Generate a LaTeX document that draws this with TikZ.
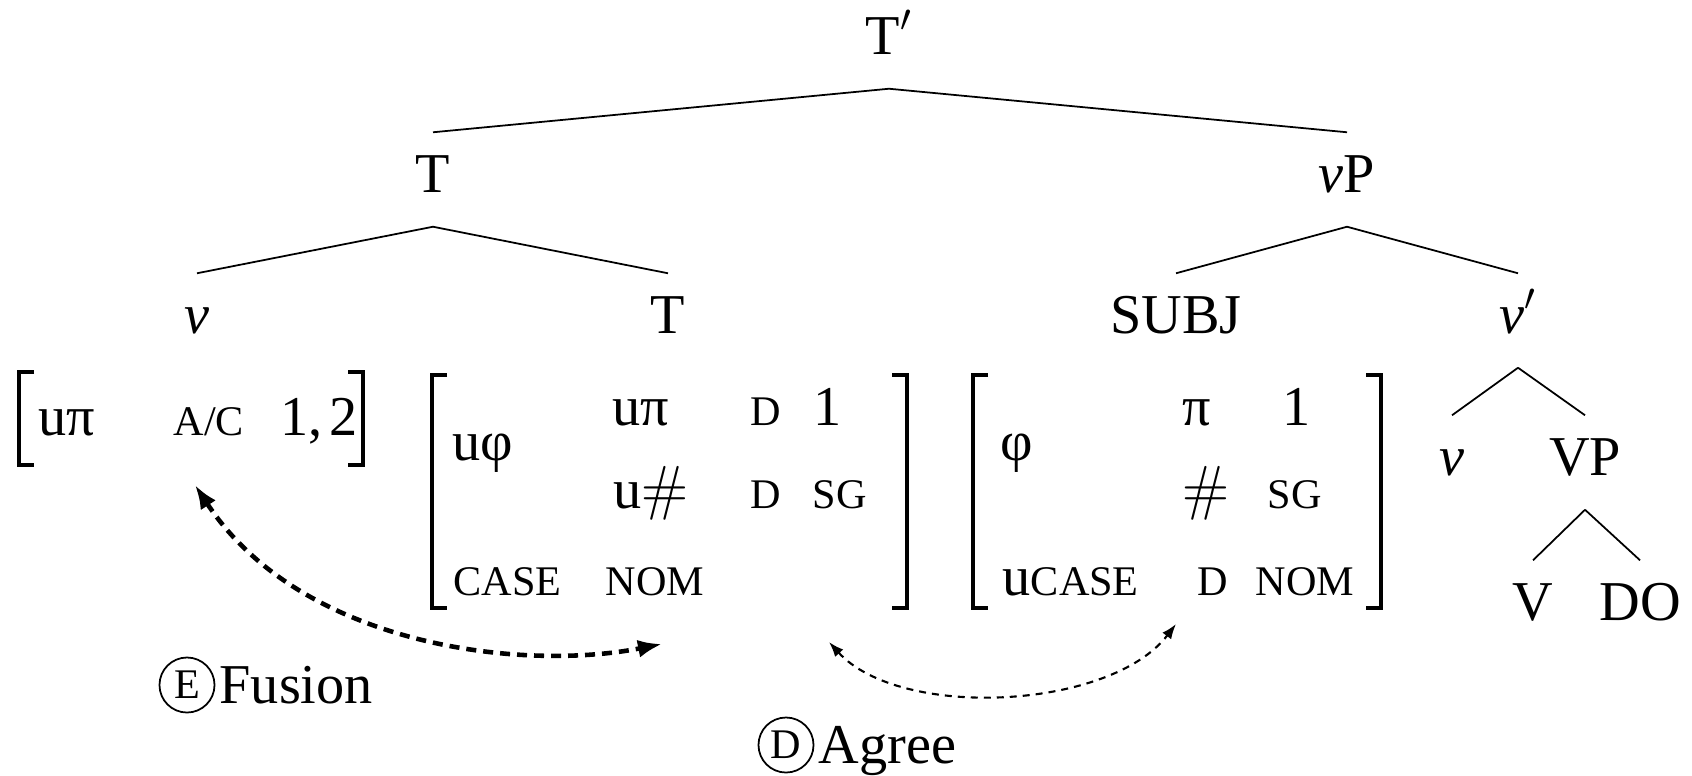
\documentclass[tikz,border=0pt]{standalone}
\usepackage[no-math]{fontspec}
\setmainfont{Liberation Serif}
\usepackage{tikz}
\usetikzlibrary{arrows.meta,positioning}
\newcommand{\smcap}[1]{{\fontsize{12}{14}\selectfont #1}}

\begin{document}
\begin{tikzpicture}[
  x=0.01cm, y=-0.01cm,
  font=\fontsize{16}{19}\selectfont,
  cat/.style={anchor=base, inner xsep=0pt, inner ysep=0.22cm, text height=0.37cm, text depth=0.12cm},
  feat/.style={anchor=base west, inner sep=0pt},
  branch/.style={line width=0.5pt},
  brk/.style={line width=1.1pt},
  fuse/.style={line width=1.3pt, dash pattern=on 0.1cm off 0.07cm, {Latex[length=0.24cm,width=0.18cm]}-{Latex[length=0.24cm,width=0.18cm]}},
  agr/.style={line width=0.6pt, dash pattern=on 0.07cm off 0.06cm, {Latex[length=0.15cm,width=0.11cm]}-{Latex[length=0.15cm,width=0.11cm]}},
  circ/.style={shape=circle, draw, line width=0.5pt, inner sep=0pt, minimum size=0.55cm},
  lab/.style={inner sep=0pt, text height=0.37cm, text depth=0pt}
]
\useasboundingbox (0,0) rectangle (1692,775);

\node[cat, inner ysep=0.1cm, text depth=0.24cm] (Tbar) at (889,54) {T$'$};
\node[cat] (T) at (433,192) {T};
\node[cat] (vP) at (1347,192) {\textit{v}P};
\node[cat] (v) at (197,333) {\textit{v}};
\node[cat] (Thead) at (668,333) {T};
\node[cat] (subj) at (1176,333) {SUBJ};
\node[cat] (vbar) at (1518,333) {\textit{v}$'$};
\node[cat] (vhead) at (1452,475) {\textit{v}};
\node[cat] (VP) at (1585,475) {VP};
\node[cat] (V) at (1533,620) {V};
\node[cat] (DO) at (1640,620) {DO};
\foreach \a/\b in {Tbar/T, Tbar/vP, T/v, T/Thead, vP/subj, vP/vbar, vbar/vhead, vbar/VP, VP/V, VP/DO}
  \draw[branch] (\a.south) -- (\b.north);

\node[feat] (a-upi) at (38,435) {uπ};
\node[feat] (a-ac) at (173,435) {\smcap{A/C}};
\node[feat] (a-num) at (280,435) {1,\kern0.12em 2};

\node[feat] (b-uphi) at (452,460) {uφ};
\node[feat] (b-upi) at (612,425) {uπ};
\node[feat] (b-d1) at (750,425) {\smcap{D}};
\node[feat] (b-one) at (813,425) {1};
\node[feat] (b-unum) at (613,508) {u$\#$};
\node[feat] (b-d2) at (750,508) {\smcap{D}};
\node[feat] (b-sg) at (812,508) {\smcap{SG}};
\node[feat] (b-case) at (453,595) {\smcap{CASE}};
\node[feat] (b-nom) at (605,595) {\smcap{NOM}};

\node[feat] (c-phi) at (1000,460) {φ};
\node[feat] (c-pi) at (1182,425) {π};
\node[feat] (c-one) at (1282,425) {1};
\node[feat] (c-num) at (1182,508) {$\#$};
\node[feat] (c-sg) at (1267,508) {\smcap{SG}};
\node[feat] (c-ucase) at (1002,595) {u\smcap{CASE}};
\node[feat] (c-d) at (1197,595) {\smcap{D}};
\node[feat] (c-nom) at (1255,595) {\smcap{NOM}};

\foreach \l/\r/\t/\b in {19/363/372/465, 432/907/375/608, 973/1381/375/608}{
  \draw[brk] ({\l+15},\t) -- (\l,\t) -- (\l,\b) -- ({\l+15},\b);
  \draw[brk] ({\r-15},\t) -- (\r,\t) -- (\r,\b) -- ({\r-15},\b);
}

\coordinate (fus-a) at (195,485);
\coordinate (fus-b) at (662,644);
\draw[fuse] (fus-a) .. controls (300,645) and (520,672) .. (fus-b);
\coordinate (agr-a) at (829,642);
\coordinate (agr-b) at (1176,624);
\draw[agr] (agr-a) .. controls (900,720) and (1110,710) .. (agr-b);

\node[circ] (E) at (187,685) {\smcap{E}};
\node[lab, right=1pt of E] (fusion) {Fusion};
\node[circ] (D) at (786,745) {\smcap{D}};
\node[lab, right=1pt of D] (agree) {Agree};
\end{tikzpicture}
\end{document}
